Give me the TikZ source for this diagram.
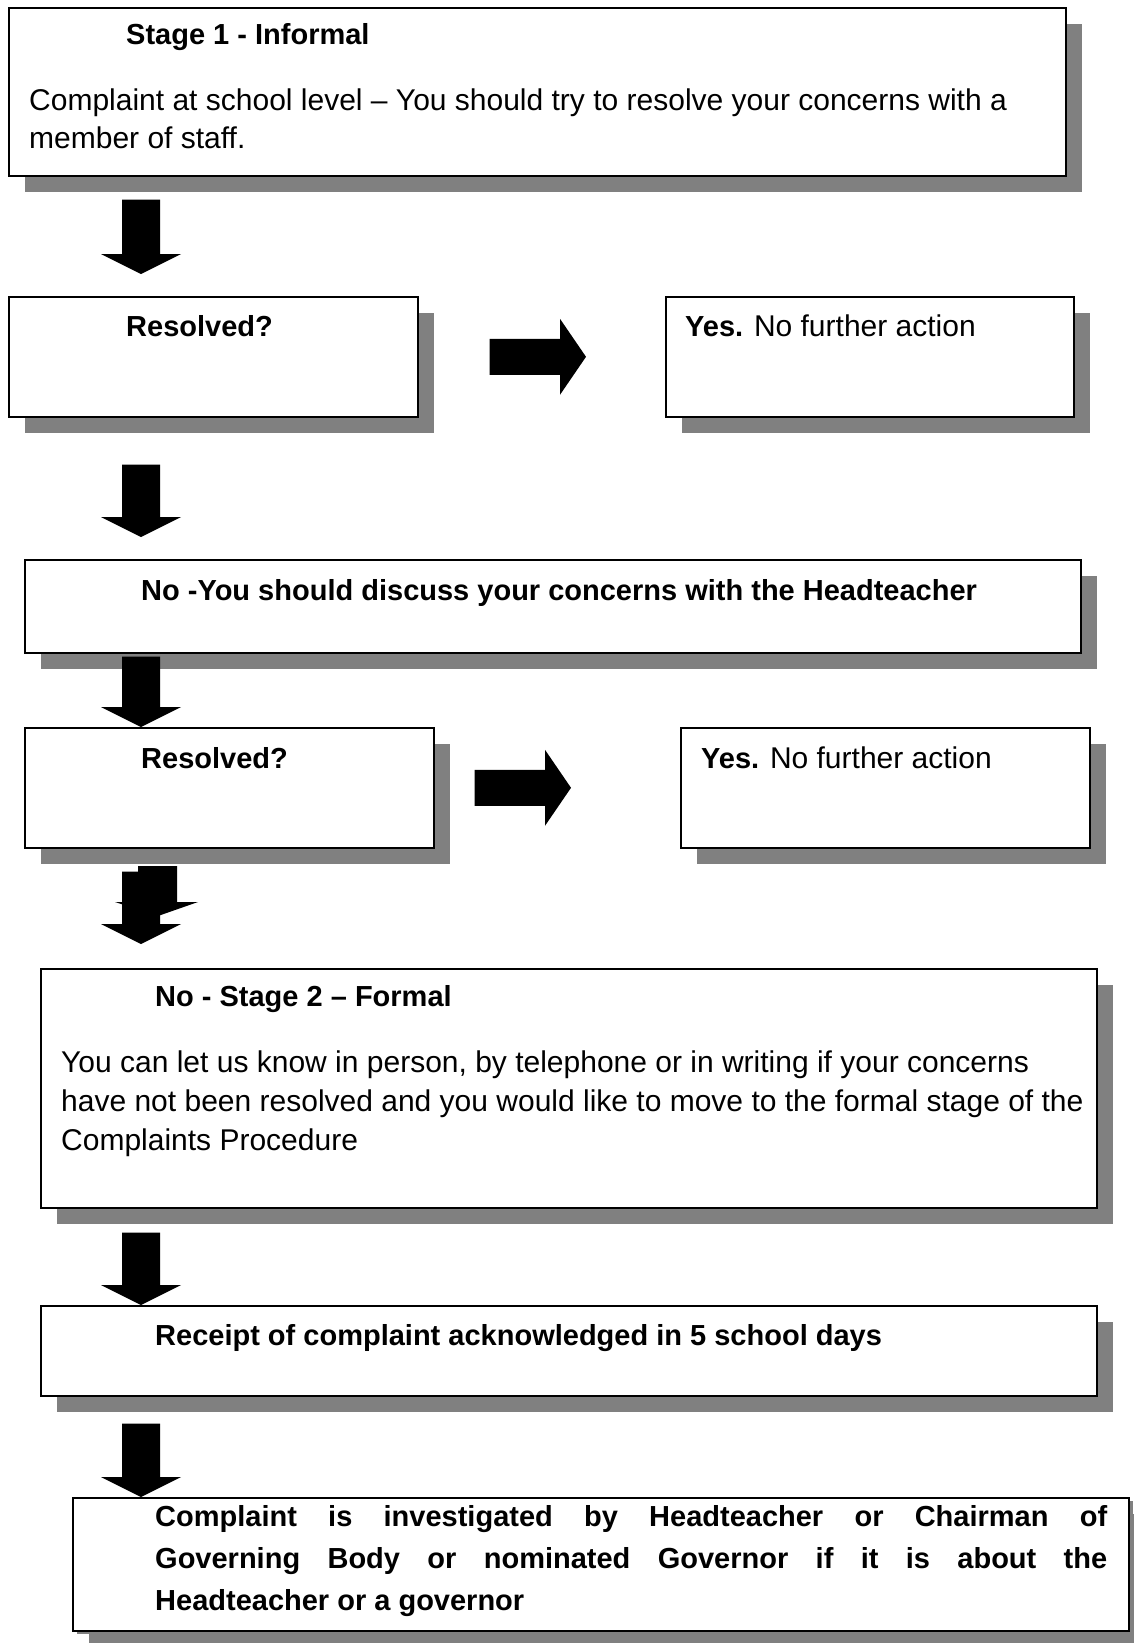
\documentclass[tikz,border=0pt]{standalone}
\usepackage{fontspec}
\setmainfont{Liberation Sans}
\usetikzlibrary{shadows,calc}
\definecolor{shadowgray}{RGB}{128,128,128}
\tikzset{
  flowbox/.style={draw, line width=1.6pt, fill=white, anchor=north west, inner sep=0pt,
    drop shadow={shadow xshift=16pt, shadow yshift=-16pt, opacity=1, fill=shadowgray}},
  boxtext/.style={anchor=base west, inner sep=0pt, align=left,
    font=\fontsize{29}{38}\selectfont},
  bodytext/.style={boxtext, font=\fontsize{30}{38}\selectfont},
}
% down block arrow: from node, to node, gap below from, gap above to
\newcommand\downblock[4]{%
  \fill let \p1=($(141,0 |- #1.south)+(0,#3)$), \p2=($(141,0 |- #2.north)+(0,-#4)$) in
    (\x1-19pt,\y1) -- (\x1+19pt,\y1) -- (\x1+19pt,\y2+20pt) -- (\x1+40pt,\y2+20pt)
    -- (\x2,\y2) -- (\x1-40pt,\y2+20pt) -- (\x1-19pt,\y2+20pt) -- cycle;}
% right block arrow: from node, to node, gap after from, gap before to
\newcommand\rightblock[4]{%
  \fill let \p1=($(#1.east)+(#3,0)$), \p2=($(#2.west |- #1.east)+(-#4,0)$) in
    (\x1,\y1+18pt) -- (\x2-26pt,\y1+18pt) -- (\x2-26pt,\y1+38pt) -- (\x2,\y1)
    -- (\x2-26pt,\y1-38pt) -- (\x2-26pt,\y1-18pt) -- (\x1,\y1-18pt) -- cycle;}
\begin{document}
\begin{tikzpicture}[x=1pt,y=-1pt]
\useasboundingbox (0,0) rectangle (1133,1643);

% boxes
\node[flowbox, minimum width=1057pt, minimum height=168pt] (stage1) at (8,7) {};
\node[flowbox, minimum width=409pt, minimum height=120pt] (resolvedA) at (8,296) {};
\node[flowbox, minimum width=408pt, minimum height=120pt] (yesA) at (665,296) {};
\node[flowbox, minimum width=1056pt, minimum height=93pt] (headteacher) at (24,559) {};
\node[flowbox, minimum width=409pt, minimum height=120pt] (resolvedB) at (24,727) {};
\node[flowbox, minimum width=409pt, minimum height=120pt] (yesB) at (680,727) {};
\node[flowbox, minimum width=1056pt, minimum height=239pt] (stage2) at (40,968) {};
\node[flowbox, minimum width=1056pt, minimum height=90pt] (receipt) at (40,1305) {};
\node[flowbox, minimum width=1056pt, minimum height=133pt,
  drop shadow={shadow xshift=4pt, shadow yshift=-3pt, opacity=1, fill=shadowgray}] (investigate) at (72,1497) {};

% texts (multi-line nodes sit on the baseline of their last line)
\node[boxtext] (stage1title) at ([shift={(118,38)}]stage1.north west) {\bfseries Stage 1 - Informal};
\node[bodytext] (stage1body) at ([shift={(21,142)}]stage1.north west)
  {Complaint at school level -- You should try to resolve your concerns with a\\member of staff.};
\node[boxtext] (resolvedAtext) at ([shift={(118,40)}]resolvedA.north west) {\bfseries Resolved?};
\node[boxtext] (yesAtext) at ([shift={(20,40)}]yesA.north west) {\textbf{Yes.} \fontsize{30}{38}\selectfont No further action};
\node[boxtext] (headteachertext) at ([shift={(117,41)}]headteacher.north west)
  {\bfseries No -You should discuss your concerns with the Headteacher};
\node[boxtext] (resolvedBtext) at ([shift={(117,41)}]resolvedB.north west) {\bfseries Resolved?};
\node[boxtext] (yesBtext) at ([shift={(21,41)}]yesB.north west) {\textbf{Yes.} \fontsize{30}{38}\selectfont No further action};
\node[boxtext] (stage2title) at ([shift={(115,38)}]stage2.north west) {\bfseries No - Stage 2 -- Formal};
\node[bodytext, font=\fontsize{30}{39}\selectfont] (stage2body) at ([shift={(21,182)}]stage2.north west)
  {You can let us know in person, by telephone or in writing if your concerns\\
   have not been resolved and you would like to move to the formal stage of the\\
   Complaints Procedure};
\node[boxtext] (receipttext) at ([shift={(115,40)}]receipt.north west)
  {\bfseries Receipt of complaint acknowledged in 5 school days};
\node[boxtext, font=\fontsize{29}{42}\selectfont\bfseries] (investigatetext) at ([shift={(83,113)}]investigate.north west)
  {\makebox[952pt][s]{Complaint is investigated by Headteacher or Chairman of}\\
   \makebox[952pt][s]{Governing Body or nominated Governor if it is about the}\\
   Headteacher or a governor};

% arrows
\downblock{stage1}{resolvedA}{23}{22}
\rightblock{resolvedA}{yesA}{71}{79}
\downblock{resolvedA}{headteacher}{47}{22}
\downblock{headteacher}{resolvedB}{3}{0}
\rightblock{resolvedB}{yesB}{40}{109}
\fill (138,866) -- (177,866) -- (177,902) -- (198,902) -- (158,916) -- (115,902) -- (138,902) -- cycle;
\downblock{resolvedB}{stage2}{23}{24}
\downblock{stage2}{receipt}{24}{0}
\downblock{receipt}{investigate}{27}{0}
\end{tikzpicture}
\end{document}
